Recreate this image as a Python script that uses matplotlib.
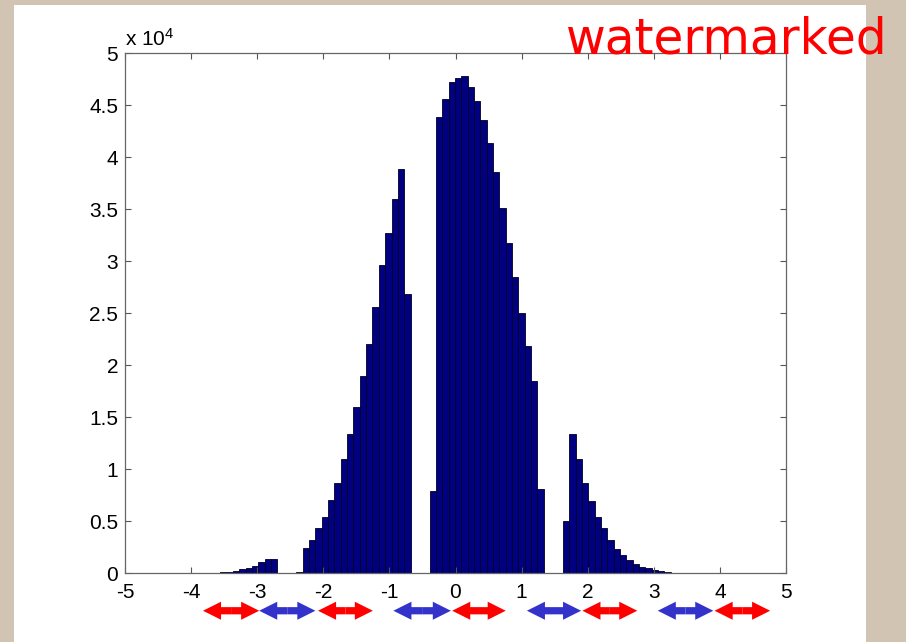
import numpy as np
import matplotlib
matplotlib.use("Agg")
import matplotlib.pyplot as plt
from matplotlib.patches import Rectangle

plt.rcParams["font.family"] = ["Liberation Sans", "DejaVu Sans"]
plt.rcParams["axes.unicode_minus"] = False
plt.rcParams["mathtext.default"] = "regular"

# histogram: 100 equal bins from -5 to 4.6
bin_lo, bin_hi, n_bins = -5.0, 4.6, 100
counts = [
    10, 10, 8, 0, 0, 0, 2, 8, 10, 12,
    15, 20, 25, 35, 60, 100, 160, 260, 385, 545,
    740, 1060, 1380, 1410, 0, 0, 0, 150,
    2430, 3200, 4390, 5410, 7050, 8650, 10960, 13400, 16000, 18970,
    22050, 25640, 29600, 32750, 35960, 38850, 26830,
    0, 0, 0,
    7910, 43850, 45640, 47240, 47660, 47820, 46790, 45450, 43560, 41410,
    38620, 35100, 31800, 28490, 25000, 21860, 18490, 8140,
    0, 0, 0,
    5030, 13400, 10960, 8720, 6990, 5380, 4330, 3200, 2370, 1760,
    1280, 900, 640, 480, 350, 220, 130, 60,
    30, 20, 12, 60, 70, 15, 8, 5, 5, 5, 5, 5, 5,
]

xticks = list(range(-5, 6))
yticks = [0, 5000, 10000, 15000, 20000, 25000, 30000, 35000, 40000, 45000, 50000]
ytick_labels = ["0", "0.5", "1", "1.5", "2", "2.5", "3", "3.5", "4", "4.5", "5"]

# intervals marked under the axis (start, end, colour)
arrow_spans = [
    (-3.82, -2.97, "red"), (-2.97, -2.12, "blue"), (-2.08, -1.25, "red"),
    (-0.94, -0.07, "blue"), (-0.05, 0.76, "red"), (1.08, 1.90, "blue"),
    (1.92, 2.75, "red"), (3.06, 3.90, "blue"), (3.92, 4.76, "red"),
]
arrow_colors = {"red": "#ff0000", "blue": "#3333cc"}

edges = np.linspace(bin_lo, bin_hi, n_bins + 1)

fig = plt.figure(figsize=(9.06, 6.42), dpi=100)
fig.patch.set_facecolor("#d1c4b2")
fig.add_artist(Rectangle((14 / 906, 0), (866 - 14) / 906, 1 - 5 / 642,
                         transform=fig.transFigure, facecolor="white",
                         edgecolor="none", zorder=0))

ax = fig.add_axes([125 / 906, 1 - 573.3 / 642, 661 / 906, 520 / 642])
ax.bar(edges[:-1], counts, width=np.diff(edges), align="edge",
       color="#000080", edgecolor="#000022", linewidth=0.6)

ax.set_xlim(-5, 5)
ax.set_ylim(0, 50000)
ax.set_xticks(xticks)
ax.set_xticklabels([str(t) for t in xticks])
ax.set_yticks(yticks)
ax.set_yticklabels(ytick_labels)
ax.tick_params(direction="in", top=True, right=True, length=4.5, width=0.8,
               labelsize=15, color="#555555")
ax.tick_params(axis="x", pad=7)
ax.tick_params(axis="y", pad=5)
for s in ax.spines.values():
    s.set_color("#666666")
    s.set_linewidth(0.9)

ax.text(0.0, 1.006, r"x 10$^{4}$", transform=ax.transAxes, ha="left",
        va="bottom", fontsize=15)

# double arrows: two filled half-arrows pointing out from the middle
arrow_y = -0.072
for x0, x1, c in arrow_spans:
    mid = (x0 + x1) / 2
    for end in (x0, x1):
        ax.annotate("", xy=(end, arrow_y), xytext=(mid, arrow_y),
                    xycoords=("data", "axes fraction"),
                    textcoords=("data", "axes fraction"),
                    annotation_clip=False,
                    arrowprops=dict(arrowstyle="simple,head_length=1.0,head_width=1.0,tail_width=0.4",
                                    facecolor=arrow_colors[c], edgecolor="none",
                                    lw=0, mutation_scale=13,
                                    shrinkA=0, shrinkB=0))

fig.text(888 / 906, 1 - 53 / 642, "watermarked", color="#ff0000",
         fontsize=35, family="DejaVu Sans", ha="right", va="baseline")

fig.savefig("out.png", dpi=100, facecolor=fig.get_facecolor())
